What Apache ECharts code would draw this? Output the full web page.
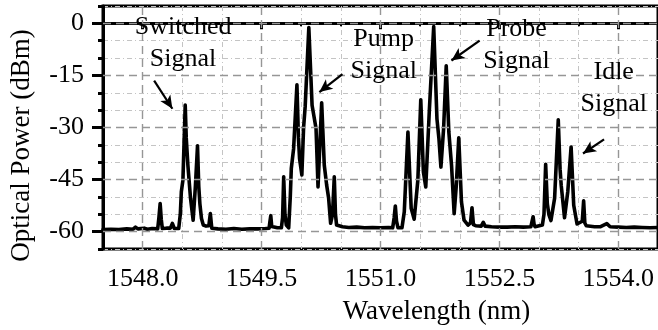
<!DOCTYPE html>
<html>
<head>
<meta charset="utf-8">
<script src="https://cdn.jsdelivr.net/npm/echarts@6/dist/echarts.min.js"></script>
<style>
  html, body { margin: 0; padding: 0; background: #fff; }
  #chart { width: 658px; height: 330px; }
</style>
</head>
<body>
<div id="chart"></div>
<script>
// Measured optical spectrum: wavelength (nm) and optical power (dBm)
const wavelength = [
  1547.50, 1547.60, 1547.70, 1547.80, 1547.88, 1547.91, 1547.94, 1548.02, 1548.06, 1548.12,
  1548.19, 1548.205, 1548.221, 1548.235, 1548.248, 1548.30, 1548.35, 1548.375, 1548.40, 1548.455,
  1548.475, 1548.488, 1548.508, 1548.537, 1548.550, 1548.571, 1548.604, 1548.637, 1548.665, 1548.692,
  1548.708, 1548.722, 1548.742, 1548.765, 1548.80, 1548.835, 1548.854, 1548.872, 1548.95, 1549.05,
  1549.15, 1549.25, 1549.35, 1549.45, 1549.55, 1549.595, 1549.606, 1549.616, 1549.628, 1549.646,
  1549.70, 1549.75, 1549.765, 1549.779, 1549.795, 1549.812, 1549.842, 1549.862, 1549.875, 1549.904,
  1549.946, 1549.965, 1549.979, 1550.008, 1550.030, 1550.050, 1550.096, 1550.137, 1550.187, 1550.212,
  1550.258, 1550.291, 1550.321, 1550.346, 1550.371, 1550.395, 1550.417, 1550.432, 1550.446, 1550.52,
  1550.60, 1550.70, 1550.80, 1550.90, 1551.00, 1551.10, 1551.154, 1551.172, 1551.187, 1551.202,
  1551.221, 1551.271, 1551.300, 1551.346, 1551.387, 1551.425, 1551.471, 1551.508, 1551.541, 1551.571,
  1551.617, 1551.671, 1551.712, 1551.737, 1551.762, 1551.796, 1551.829, 1551.862, 1551.896, 1551.929,
  1551.955, 1551.987, 1552.021, 1552.054, 1552.104, 1552.135, 1552.154, 1552.172, 1552.20, 1552.27,
  1552.296, 1552.32, 1552.40, 1552.50, 1552.60, 1552.70, 1552.80, 1552.896, 1552.912, 1552.925,
  1552.938, 1552.95, 1553.042, 1553.062, 1553.083, 1553.104, 1553.125, 1553.15, 1553.196, 1553.242,
  1553.265, 1553.279, 1553.321, 1553.362, 1553.404, 1553.437, 1553.479, 1553.545, 1553.562, 1553.577,
  1553.595, 1553.70, 1553.77, 1553.854, 1553.896, 1554.00, 1554.10, 1554.20, 1554.30, 1554.40,
  1554.50
];
const power = [
  -59.4, -59.3, -59.4, -59.2, -59.3, -58.7, -59.2, -59.0, -59.3, -59.1,
  -59.2, -56.0, -51.9, -56.5, -59.1, -59.0, -59.0, -57.6, -59.1, -59.1,
  -55.0, -48.5, -45.2, -23.5, -33.0, -41.0, -50.4, -56.7, -47.0, -35.3,
  -47.0, -52.0, -56.2, -58.1, -58.4, -58.3, -54.8, -59.0, -59.2, -59.3,
  -59.1, -59.3, -59.2, -59.2, -59.1, -59.0, -57.0, -55.4, -58.5, -59.0,
  -58.9, -58.9, -56.0, -44.2, -55.0, -58.1, -58.9, -50.0, -41.8, -36.1,
  -17.7, -33.0, -38.9, -43.7, -30.0, -24.0, -1.2, -23.6, -30.3, -47.1,
  -22.9, -40.9, -46.6, -50.4, -57.6, -55.0, -44.2, -55.0, -58.1, -58.6,
  -58.8, -58.7, -58.9, -58.8, -58.9, -58.8, -58.9, -56.0, -52.6, -57.0,
  -58.9, -58.9, -54.3, -31.3, -53.3, -56.4, -45.2, -22.0, -42.8, -47.1,
  -24.6, -0.9, -27.5, -33.2, -41.4, -30.3, -12.2, -31.3, -40.9, -54.8,
  -47.0, -33.0, -51.4, -56.7, -58.1, -57.5, -53.1, -58.0, -58.3, -58.4,
  -57.3, -58.4, -58.6, -58.7, -58.7, -58.6, -58.7, -58.6, -57.0, -55.7,
  -58.0, -58.6, -58.1, -55.0, -40.6, -52.0, -55.2, -56.8, -50.4, -27.8,
  -42.0, -46.6, -56.0, -48.5, -35.6, -52.4, -57.8, -57.0, -51.1, -57.5,
  -58.3, -58.6, -58.6, -57.7, -58.6, -58.7, -58.8, -58.7, -58.8, -58.9,
  -58.8
];

// Axis ticks that carry labels
const xMajorTicks = [1548.0, 1549.5, 1551.0, 1552.5, 1554.0];
const yMajorTicks = [-60, -45, -30, -15, 0];

// Callout texts with their anchor (wavelength, power)
const calloutTexts = ['Switched\nSignal', 'Pump\nSignal', 'Probe\nSignal', 'Idle\nSignal'];
const calloutAnchors = [[1548.51, -5.8], [1551.04, -9.3], [1552.716, -6.2], [1553.941, -18.6]];
// Callout arrows: tail and head (wavelength, power)
const arrowTails = [[1548.145, -16.5], [1550.52, -14.6], [1552.25, -5.0], [1553.82, -33.4]];
const arrowHeads = [[1548.375, -24.6], [1550.229, -19.8], [1551.895, -10.7], [1553.554, -37.5]];

const FONT = 'Liberation Serif';
const X_MIN = 1547.5, X_MAX = 1554.5, Y_MIN = -65, Y_MAX = 5;
// every third grid line is a major one, drawn separately as a dashed line
const minorGridColors = ['#c4c4c4', 'rgba(0,0,0,0)', '#c4c4c4'];

const chart = echarts.init(document.getElementById('chart'), null, { renderer: 'canvas' });

chart.setOption({
  animation: false,
  backgroundColor: '#fff',
  grid: {
    left: 101, right: -4, top: 6, bottom: 79,
    show: true, borderColor: '#000', borderWidth: 3, backgroundColor: 'transparent'
  },
  xAxis: [
    {
      type: 'value', min: X_MIN, max: X_MAX, interval: 0.5,
      axisLine: { show: true, lineStyle: { color: '#000', width: 3 } },
      axisTick: { show: true, length: 3, lineStyle: { color: '#000', width: 2 } },
      axisLabel: { show: false },
      splitLine: { show: true, lineStyle: { color: minorGridColors, width: 1, type: [5, 3, 1, 3] } }
    },
    {
      type: 'value', min: X_MIN, max: X_MAX, interval: 0.5, position: 'bottom',
      axisLine: { show: false },
      axisTick: { show: true, customValues: xMajorTicks, length: 6, lineStyle: { color: '#000', width: 3 } },
      axisLabel: {
        show: true, customValues: xMajorTicks, margin: 17,
        formatter: v => v.toFixed(1),
        color: '#000', fontFamily: FONT, fontSize: 26
      },
      splitLine: { show: false },
      name: 'Wavelength (nm)', nameLocation: 'middle', nameGap: 49,
      nameTextStyle: { color: '#000', fontFamily: FONT, fontSize: 27, padding: [0, 0, 0, 112] }
    }
  ],
  yAxis: [
    {
      type: 'value', min: Y_MIN, max: Y_MAX, interval: 5,
      axisLine: { show: true, lineStyle: { color: '#000', width: 3 } },
      axisTick: { show: true, length: 5, lineStyle: { color: '#000', width: 3 } },
      axisLabel: { show: false },
      splitLine: { show: true, lineStyle: { color: minorGridColors, width: 1, type: [5, 3, 1, 3] } }
    },
    {
      type: 'value', min: Y_MIN, max: Y_MAX, interval: 5, position: 'left',
      axisLine: { show: false },
      axisTick: { show: true, customValues: yMajorTicks, length: 11, lineStyle: { color: '#000', width: 3 } },
      axisLabel: {
        show: true, customValues: yMajorTicks, margin: 19,
        color: '#000', fontFamily: FONT, fontSize: 26
      },
      splitLine: { show: false },
      name: 'Optical Power (dBm)', nameLocation: 'middle', nameGap: 68, nameRotate: 90,
      nameTextStyle: { color: '#000', fontFamily: FONT, fontSize: 27, padding: [0, 36, 0, 0] }
    }
  ],
  series: [
    {
      // dashed major grid lines
      type: 'line', data: [], z: 1, silent: true,
      markLine: {
        silent: true, symbol: ['none', 'none'], label: { show: false },
        lineStyle: { color: '#969696', width: 1.4, type: [8, 5] },
        data: xMajorTicks.map(v => ({ xAxis: v })).concat(yMajorTicks.map(v => ({ yAxis: v })))
      }
    },
    {
      name: 'Spectrum', type: 'line', z: 3,
      data: wavelength.map((w, i) => [w, power[i]]),
      showSymbol: false, smooth: false,
      lineStyle: { color: '#000', width: 3.6, join: 'round', cap: 'round' }
    },
    {
      // callout texts and arrows
      type: 'line', data: [], z: 4, silent: true,
      markPoint: {
        symbol: 'circle', symbolSize: 1, itemStyle: { color: 'rgba(0,0,0,0)' },
        label: {
          show: true, position: 'inside', color: '#000', fontFamily: FONT,
          fontSize: 26, lineHeight: 32, align: 'center', verticalAlign: 'middle'
        },
        data: calloutTexts.map((t, i) => ({ coord: calloutAnchors[i], value: 0, label: { formatter: t } }))
      },
      markLine: {
        silent: true, symbol: ['none', 'arrow'], symbolSize: [9, 13], label: { show: false },
        lineStyle: { color: '#000', width: 2.2, type: 'solid' },
        data: arrowTails.map((t, i) => [{ coord: t }, { coord: arrowHeads[i] }])
      }
    }
  ]
});
</script>
</body>
</html>
